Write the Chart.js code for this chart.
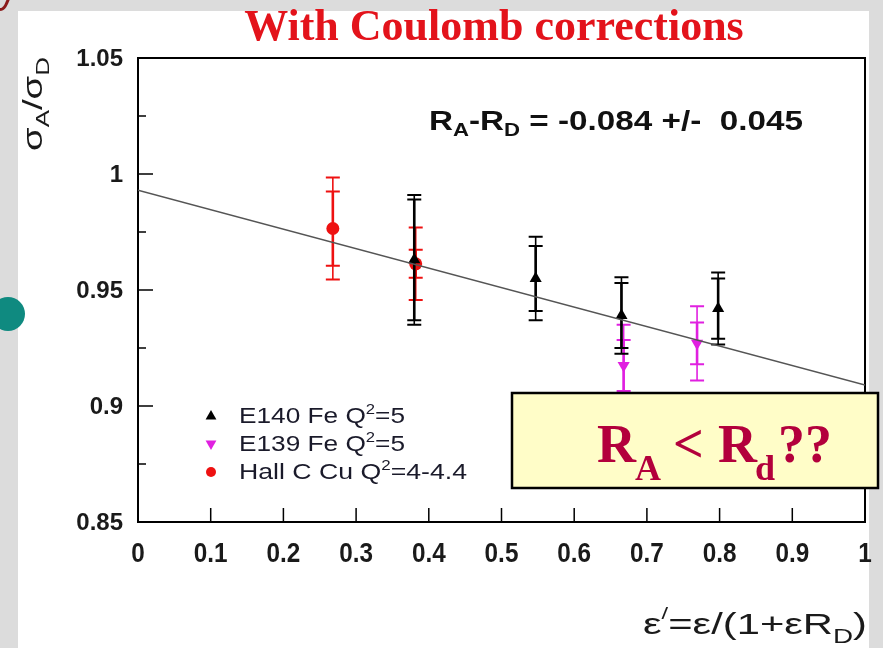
<!DOCTYPE html>
<html>
<head>
<meta charset="utf-8">
<script src="https://cdn.jsdelivr.net/npm/chart.js@4.4.1/dist/chart.umd.min.js"></script>
<style>
  html, body { margin: 0; padding: 0; background: #dcdcdc; }
  #wrap { width: 883px; height: 648px; }
</style>
</head>
<body>
<div id="wrap"><canvas id="chart" width="883" height="648"></canvas></div>
<script>
// axis ticks
const xTicks = [0, 0.1, 0.2, 0.3, 0.4, 0.5, 0.6, 0.7, 0.8, 0.9, 1];
const xTickLabels = ['0', '0.1', '0.2', '0.3', '0.4', '0.5', '0.6', '0.7', '0.8', '0.9', '1'];
const yTicks = [0.85, 0.9, 0.95, 1, 1.05];
const yTickLabels = ['0.85', '0.9', '0.95', '1', '1.05'];
const yMinorTicks = [0.875, 0.925, 0.975, 1.025];

// E140 Fe Q2=5
const e140X = [0.38, 0.547, 0.665, 0.798];
const e140Y = [0.963, 0.955, 0.939, 0.942];
const e140Stat = [0.026, 0.014, 0.014, 0.013];
const e140Total = [0.028, 0.018, 0.0165, 0.0155];

// E139 Fe Q2=5
const e139X = [0.668, 0.769];
const e139Y = [0.9175, 0.927];
const e139Stat = [0.011, 0.009];
const e139Total = [0.0175, 0.016];

// Hall C Cu Q2=4-4.4
const hallX = [0.268, 0.382];
const hallY = [0.9765, 0.9613];
const hallStat = [0.016, 0.006];
const hallTotal = [0.022, 0.0156];

// linear fit
const fitX = [0, 1];
const fitY = [0.993, 0.909];

const E140_COLOR = '#000000';
const E139_COLOR = '#e020e0';
const HALL_COLOR = '#ee1111';

function toPoints(xs, ys) {
    return xs.map((x, i) => ({ x: x, y: ys[i] }));
}

// text made of pieces [text, font, dy], squeezed/stretched to a given width
function richText(ctx, x, y, parts, width) {
    let w = 0;
    parts.forEach(p => { ctx.font = p[1]; w += ctx.measureText(p[0]).width; });
    const k = width ? width / w : 1;
    ctx.save();
    ctx.translate(x, y);
    ctx.scale(k, 1);
    let cx = 0;
    parts.forEach(p => {
        ctx.font = p[1];
        ctx.fillText(p[0], cx, p[2] || 0);
        cx += ctx.measureText(p[0]).width;
    });
    ctx.restore();
}

function drawTriangle(ctx, x, y, r, down) {
    const s = down ? -1 : 1;
    ctx.beginPath();
    ctx.moveTo(x, y - s * r);
    ctx.lineTo(x + r * 0.9, y + s * r * 0.6);
    ctx.lineTo(x - r * 0.9, y + s * r * 0.6);
    ctx.closePath();
    ctx.fill();
}

const backgroundPlugin = {
    id: 'background',
    beforeDraw(chart) {
        const ctx = chart.ctx;
        ctx.save();
        ctx.fillStyle = '#dcdcdc';
        ctx.fillRect(0, 0, 883, 648);
        ctx.fillStyle = '#ffffff';
        ctx.fillRect(18, 11, 851, 637);
        // teal bullet at the left edge
        ctx.fillStyle = '#0f8a80';
        ctx.beginPath();
        ctx.arc(8, 314, 17, 0, Math.PI * 2);
        ctx.fill();
        // cut letter at the top left
        ctx.fillStyle = '#8b1a1a';
        ctx.font = 'bold 56px "Liberation Serif"';
        ctx.fillText('y', -6, -1);
        ctx.restore();
    }
};

const axesPlugin = {
    id: 'frameAxes',
    beforeDatasetsDraw(chart) {
        const ctx = chart.ctx;
        const a = chart.chartArea;
        const xs = chart.scales.x;
        const ys = chart.scales.y;
        ctx.save();
        ctx.strokeStyle = '#000';
        ctx.lineWidth = 2;
        ctx.strokeRect(a.left, a.top, a.right - a.left, a.bottom - a.top);
        ctx.lineWidth = 1.5;
        ctx.beginPath();
        yTicks.forEach(v => {
            const y = ys.getPixelForValue(v);
            ctx.moveTo(a.left, y);
            ctx.lineTo(a.left + 15, y);
        });
        yMinorTicks.forEach(v => {
            const y = ys.getPixelForValue(v);
            ctx.moveTo(a.left, y);
            ctx.lineTo(a.left + 8, y);
        });
        xTicks.forEach(v => {
            const x = xs.getPixelForValue(v);
            ctx.moveTo(x, a.bottom);
            ctx.lineTo(x, a.bottom - 14);
        });
        ctx.stroke();

        ctx.fillStyle = '#1a1a1a';
        ctx.font = 'bold 24px "Liberation Sans"';
        ctx.textAlign = 'right';
        ctx.textBaseline = 'middle';
        yTicks.forEach((v, i) => {
            ctx.fillText(yTickLabels[i], 123, ys.getPixelForValue(v) + 1);
        });
        ctx.textAlign = 'center';
        ctx.font = 'bold 27px "Liberation Sans"';
        xTicks.forEach((v, i) => {
            const x = xs.getPixelForValue(v);
            ctx.save();
            ctx.translate(x, 555);
            ctx.scale(0.9, 1);
            ctx.fillText(xTickLabels[i], 0, 0);
            ctx.restore();
        });
        ctx.restore();
    }
};

const errorBarPlugin = {
    id: 'errorBars',
    beforeDatasetDraw(chart, args) {
        const ds = chart.data.datasets[args.index];
        if (!ds.errTotal) return;
        const ctx = chart.ctx;
        const xs = chart.scales.x;
        const ys = chart.scales.y;
        const cap = 7;
        ctx.save();
        ctx.strokeStyle = ds.barColor;
        ds.data.forEach((p, i) => {
            const x = xs.getPixelForValue(p.x);
            const yTop = ys.getPixelForValue(p.y + ds.errTotal[i]);
            const yBot = ys.getPixelForValue(p.y - ds.errTotal[i]);
            const sTop = ys.getPixelForValue(p.y + ds.errStat[i]);
            const sBot = ys.getPixelForValue(p.y - ds.errStat[i]);
            ctx.lineWidth = 1.6;
            ctx.beginPath();
            ctx.moveTo(x, yTop); ctx.lineTo(x, yBot);
            ctx.stroke();
            ctx.lineWidth = 2.6;
            ctx.beginPath();
            ctx.moveTo(x, sTop); ctx.lineTo(x, sBot);
            ctx.stroke();
            ctx.lineWidth = 2;
            ctx.beginPath();
            [yTop, yBot, sTop, sBot].forEach(y => {
                ctx.moveTo(x - cap, y); ctx.lineTo(x + cap, y);
            });
            ctx.stroke();
        });
        ctx.restore();
    }
};

const textPlugin = {
    id: 'texts',
    afterDraw(chart) {
        const ctx = chart.ctx;
        ctx.save();
        ctx.textAlign = 'left';
        ctx.textBaseline = 'alphabetic';

        // title
        ctx.fillStyle = '#e3131b';
        ctx.font = 'bold 44px "Liberation Serif"';
        ctx.textAlign = 'center';
        ctx.fillText('With Coulomb corrections', 494, 40);
        ctx.textAlign = 'left';

        // fit result
        ctx.fillStyle = '#111';
        const b = 'bold 27px "Liberation Sans"';
        const bs = 'bold 18px "Liberation Sans"';
        richText(ctx, 429, 130, [['R', b], ['A', bs, 6], ['-R', b], ['D', bs, 6], [' = -0.084 +/-  0.045', b]], 374);

        // y axis title
        ctx.save();
        ctx.translate(42, 151);
        ctx.rotate(-Math.PI / 2);
        ctx.fillStyle = '#1a1a1a';
        const f = '28px "Liberation Sans"';
        const fs = '19px "Liberation Sans"';
        richText(ctx, 0, 0, [['\u03c3', f], ['A', fs, 7], ['/\u03c3', f], ['D', fs, 7]], 94);
        ctx.restore();

        // x axis title
        ctx.fillStyle = '#1a1a1a';
        const g = '30px "Liberation Sans"';
        const gs = '20px "Liberation Sans"';
        const gp = '17px "Liberation Sans"';
        richText(ctx, 643, 634, [['\u03b5', g], ['/', gp, -15], ['=\u03b5/(1+\u03b5R', g], ['D', gs, 9], [')', g]], 224);

        // legend
        const lx = 211;
        const rows = [423, 451, 479];
        const lf = '22px "Liberation Sans"';
        const lfs = '14px "Liberation Sans"';
        ctx.fillStyle = E140_COLOR;
        drawTriangle(ctx, lx, rows[0] - 7, 6, false);
        ctx.fillStyle = E139_COLOR;
        drawTriangle(ctx, lx, rows[1] - 7, 6, true);
        ctx.fillStyle = HALL_COLOR;
        ctx.beginPath();
        ctx.arc(lx, rows[2] - 7, 5, 0, Math.PI * 2);
        ctx.fill();
        ctx.fillStyle = '#1a1a2a';
        richText(ctx, 239, rows[0], [['E140 Fe Q', lf], ['2', lfs, -9], ['=5', lf]], 166);
        richText(ctx, 239, rows[1], [['E139 Fe Q', lf], ['2', lfs, -9], ['=5', lf]], 166);
        richText(ctx, 239, rows[2], [['Hall C Cu Q', lf], ['2', lfs, -9], ['=4-4.4', lf]], 228);

        // yellow note box
        ctx.fillStyle = '#fffdc8';
        ctx.fillRect(512, 393, 366, 95);
        ctx.strokeStyle = '#000';
        ctx.lineWidth = 2.5;
        ctx.strokeRect(512, 393, 366, 95);
        ctx.fillStyle = '#b3003c';
        const big = 'bold 54px "Liberation Serif"';
        const sub = 'bold 36px "Liberation Serif"';
        ctx.font = big;
        ctx.fillText('R', 597, 462);
        ctx.fillText('<', 673, 462);
        ctx.fillText('R', 718, 462);
        ctx.fillText('??', 778, 462);
        ctx.font = sub;
        ctx.fillText('A', 635, 480);
        ctx.fillText('d', 755, 480);

        ctx.restore();
    }
};

new Chart(document.getElementById('chart'), {
    type: 'scatter',
    data: {
        datasets: [
            {
                type: 'line',
                label: 'fit',
                data: toPoints(fitX, fitY),
                borderColor: '#555555',
                borderWidth: 1.5,
                pointRadius: 0,
                fill: false
            },
            {
                label: 'E140 Fe Q2=5',
                data: toPoints(e140X, e140Y),
                errStat: e140Stat,
                errTotal: e140Total,
                barColor: E140_COLOR,
                pointStyle: 'triangle',
                pointRadius: 7,
                backgroundColor: E140_COLOR,
                borderColor: E140_COLOR,
                borderWidth: 0
            },
            {
                label: 'E139 Fe Q2=5',
                data: toPoints(e139X, e139Y),
                errStat: e139Stat,
                errTotal: e139Total,
                barColor: E139_COLOR,
                pointStyle: 'triangle',
                rotation: 180,
                pointRadius: 7,
                backgroundColor: E139_COLOR,
                borderColor: E139_COLOR,
                borderWidth: 0
            },
            {
                label: 'Hall C Cu Q2=4-4.4',
                data: toPoints(hallX, hallY),
                errStat: hallStat,
                errTotal: hallTotal,
                barColor: HALL_COLOR,
                pointStyle: 'circle',
                pointRadius: 6.5,
                backgroundColor: HALL_COLOR,
                borderColor: HALL_COLOR,
                borderWidth: 0
            }
        ]
    },
    options: {
        responsive: false,
        animation: false,
        layout: {
            padding: { left: 138, right: 18, top: 58, bottom: 126 }
        },
        scales: {
            x: { type: 'linear', min: 0, max: 1, display: false },
            y: { type: 'linear', min: 0.85, max: 1.05, display: false }
        },
        plugins: {
            legend: { display: false },
            tooltip: { enabled: false }
        }
    },
    plugins: [backgroundPlugin, axesPlugin, errorBarPlugin, textPlugin]
});
</script>
</body>
</html>
